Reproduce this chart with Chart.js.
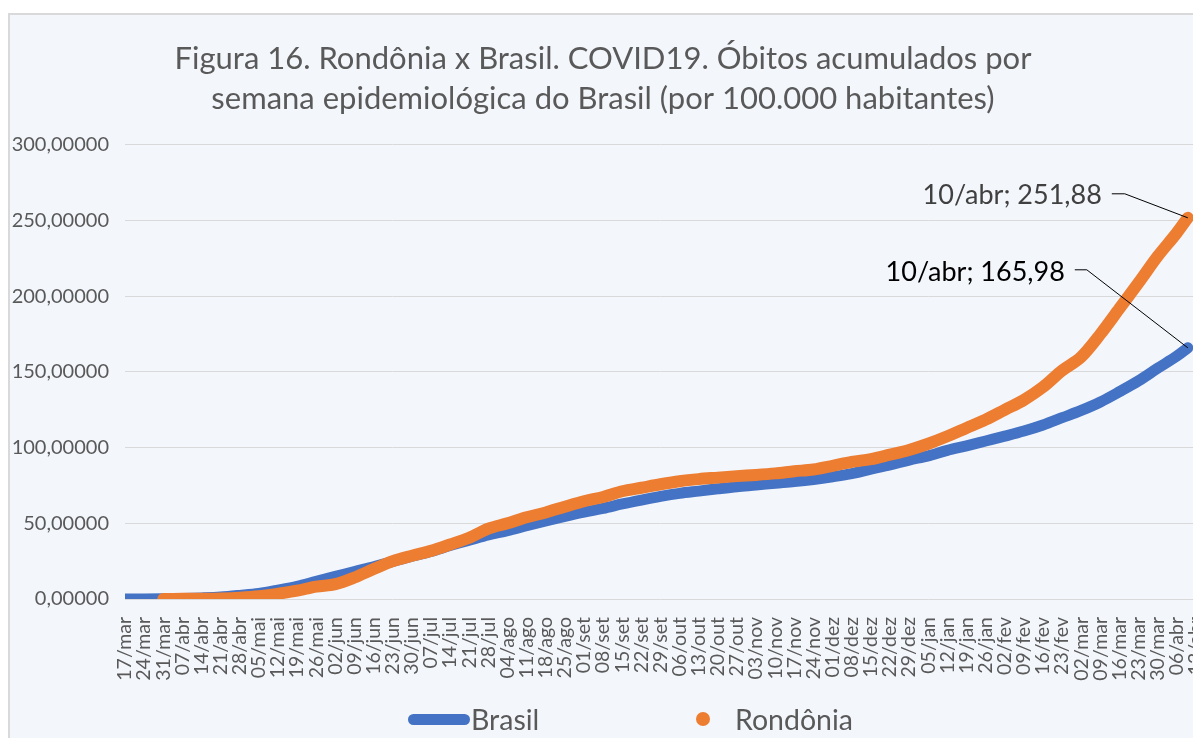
<!DOCTYPE html>
<html>
<head>
<meta charset="utf-8">
<script src="https://cdn.jsdelivr.net/npm/chart.js@4.4.1/dist/chart.umd.min.js"></script>
<style>
  html, body { margin: 0; padding: 0; background: #fff; overflow: hidden; }
  #box {
    position: absolute; left: 8px; top: 13px; width: 1194px; height: 740px;
    background: #F3F6FB; border: 2px solid #D9D9D9; box-sizing: border-box;
  }
  #box canvas { position: absolute; left: 0; top: 0; }
  .leg { position: absolute; font-family: Lato, sans-serif; font-size: 28.5px; color: #595959; line-height: 30px; }
  .legLine { position: absolute; height: 11px; border-radius: 6px; background: #4472C4; }
  .legDot { position: absolute; width: 14px; height: 14px; border-radius: 50%; background: #ED7D31; }
</style>
</head>
<body>
<div id="box">
  <canvas id="c" width="1190" height="736"></canvas>
</div>
<div class="legLine" style="left:408px; top:714px; width:62px;"></div>
<div class="leg" style="left:471px; top:704px;">Brasil</div>
<div class="legDot" style="left:696px; top:712px;"></div>
<div class="leg" style="left:735px; top:704px;">Rondônia</div>
<script>
// rótulos semanais do eixo x (17/mar/2020 a 13/abr/2021)
const tickLabels = [
  "17/mar","24/mar","31/mar","07/abr","14/abr","21/abr","28/abr","05/mai","12/mai","19/mai",
  "26/mai","02/jun","09/jun","16/jun","23/jun","30/jun","07/jul","14/jul","21/jul","28/jul",
  "04/ago","11/ago","18/ago","25/ago","01/set","08/set","15/set","22/set","29/set","06/out",
  "13/out","20/out","27/out","03/nov","10/nov","17/nov","24/nov","01/dez","08/dez","15/dez",
  "22/dez","29/dez","05/jan","12/jan","19/jan","26/jan","02/fev","09/fev","16/fev","23/fev",
  "02/mar","09/mar","16/mar","23/mar","30/mar","06/abr","13/abr"
];

// dias desde 17/mar/2020
const dias = [0,7,14,21,28,35,42,49,56,63,70,77,84,91,98,105,112,119,126,133,140,147,154,161,168,
  175,182,189,196,203,210,217,224,231,238,245,252,259,266,273,280,287,294,301,308,315,322,329,336,
  343,350,357,364,371,378,385,389];
const ultimaData = "10/abr";

const brasil = [0,0.01,0.1,0.3,0.7,1.3,2.4,3.7,5.9,8.4,11.7,14.9,18.2,21.3,24.8,28.3,31.5,35.3,38.8,
  42.3,45.1,48.4,51.6,54.6,57.4,59.9,62.8,65.4,67.8,69.8,71.3,72.8,74.2,75.3,76.5,77.6,79.0,80.8,
  82.9,85.8,88.6,91.8,94.6,98.2,101.2,104.4,107.6,111.0,115.0,119.8,124.6,130.2,137.0,144.2,152.5,
  160.5,165.98];

const rondonia = [null,null,0.0,0.1,0.2,0.4,0.9,1.8,3.5,5.5,8.2,9.8,14.2,19.8,25.0,28.6,31.8,36.0,
  40.5,46.5,50.0,54.0,57.2,61.0,64.6,67.4,71.2,73.5,75.8,77.8,79.2,80.2,81.2,82.0,83.0,84.4,85.6,
  88.0,90.6,92.4,95.4,98.5,102.6,107.5,113.0,118.5,125.0,131.5,140.0,151.0,160.0,175.0,192.0,209.0,
  226.5,242.0,251.88];

const FONT = "Lato, sans-serif";
const GRAY = "#595959";

function pts(vals) {
  return dias.map((d, i) => ({ x: d, y: vals[i] }));
}

const endLabels = {
  id: "endLabels",
  afterDatasetsDraw(chart) {
    const ctx = chart.ctx;
    const cfg = [
      { ds: 0, color: "#404040", dx: -86, dy: -23, lx: -76, ly: -24, hx: -63 },
      { ds: 1, color: "#000000", dx: -123, dy: -76, lx: -113, ly: -78, hx: -101 }
    ];
    ctx.save();
    for (const c of cfg) {
      const meta = chart.getDatasetMeta(c.ds);
      const el = meta.data[meta.data.length - 1];
      const v = chart.data.datasets[c.ds].data[meta.data.length - 1].y;
      const txt = ultimaData + "; " + v.toFixed(2).replace(".", ",");
      ctx.font = "27px " + FONT;
      ctx.fillStyle = c.color;
      ctx.textAlign = "right";
      ctx.textBaseline = "middle";
      ctx.fillText(txt, el.x + c.dx, el.y + c.dy);
      ctx.strokeStyle = "#000";
      ctx.lineWidth = 1;
      ctx.beginPath();
      ctx.moveTo(el.x + c.lx, el.y + c.ly);
      ctx.lineTo(el.x + c.hx, el.y + c.ly);
      ctx.lineTo(el.x, el.y);
      ctx.stroke();
    }
    ctx.restore();
  }
};

new Chart(document.getElementById("c"), {
  type: "line",
  data: {
    datasets: [
      {
        label: "Rondônia",
        data: pts(rondonia),
        borderColor: "#ED7D31",
        backgroundColor: "#ED7D31",
        borderWidth: 12,
        borderCapStyle: "round",
        borderJoinStyle: "round",
        pointRadius: 0,
        cubicInterpolationMode: "monotone",
        order: 0
      },
      {
        label: "Brasil",
        data: pts(brasil),
        borderColor: "#4472C4",
        backgroundColor: "#4472C4",
        borderWidth: 11,
        borderCapStyle: "round",
        borderJoinStyle: "round",
        pointRadius: 0,
        cubicInterpolationMode: "monotone",
        order: 1
      }
    ]
  },
  options: {
    responsive: false,
    animation: false,
    layout: { padding: { left: 0, right: 4, top: 0, bottom: 0 } },
    plugins: {
      legend: { display: false },
      tooltip: { enabled: false },
      title: {
        display: true,
        text: [
          "Figura 16. Rondônia x Brasil. COVID19. Óbitos acumulados por",
          "semana epidemiológica do Brasil (por 100.000 habitantes)"
        ],
        color: GRAY,
        font: { family: FONT, size: 31, weight: "normal", lineHeight: 1.29 },
        padding: { top: 24, bottom: 26 }
      }
    },
    scales: {
      x: {
        type: "linear",
        min: 0,
        max: 392,
        afterBuildTicks(scale) {
          scale.ticks = tickLabels.map((t, i) => ({ value: i * 7 }));
        },
        afterFit(scale) {
          scale.height = 152;
          scale.paddingRight = 0;
        },
        grid: { display: false },
        border: { display: false },
        ticks: {
          autoSkip: false,
          minRotation: 90,
          maxRotation: 90,
          padding: 10,
          color: GRAY,
          font: { family: FONT, size: 19.5 },
          callback: (v, i) => tickLabels[i]
        }
      },
      y: {
        min: 0,
        max: 300,
        afterFit(scale) { scale.width = 115; },
        grid: { color: "#D9D9D9", lineWidth: 1, drawTicks: false },
        border: { display: false },
        ticks: {
          stepSize: 50,
          padding: 16,
          color: GRAY,
          font: { family: FONT, size: 20 },
          callback: v => v.toFixed(5).replace(".", ",")
        }
      }
    }
  },
  plugins: [endLabels]
});
</script>
</body>
</html>
